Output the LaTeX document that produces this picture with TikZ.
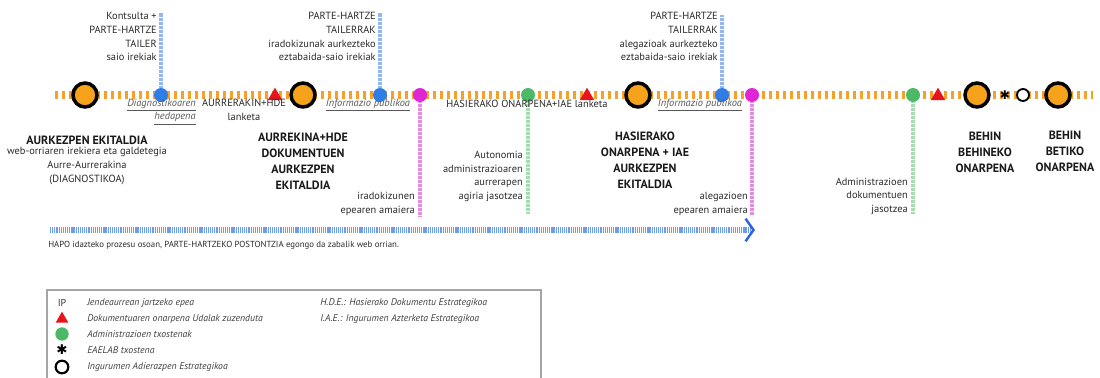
\documentclass[tikz,border=0pt]{standalone}
\usepackage{fontspec}
\setmainfont{PT Sans}
\newfontfamily\symfont{DejaVu Sans}
\usepackage{tikz}
\usetikzlibrary{shapes.geometric, arrows.meta, positioning}

\definecolor{tlorange}{HTML}{F5A02A}
\definecolor{circorange}{HTML}{F7A21B}
\definecolor{dotblue}{HTML}{2F7EE8}
\definecolor{dotmag}{HTML}{E024D6}
\definecolor{dotgreen}{HTML}{4DB866}
\definecolor{trired}{HTML}{E8141C}
\definecolor{lineblue}{HTML}{93B6F2}
\definecolor{linemag}{HTML}{E68AE2}
\definecolor{linegreen}{HTML}{A6DCB0}
\definecolor{hapoblue}{HTML}{6C9BF0}
\definecolor{chevblue}{HTML}{2D62D8}
\definecolor{txtgray}{HTML}{2A2A2A}

\newcommand{\ul}[1]{\underline{\textit{#1}}}

\begin{document}
\begin{tikzpicture}[x=0.75pt, y=-0.75pt,
    timeline/.style={line width=6pt, dash pattern=on 2.25pt off 3pt, tlorange},
    event/.style={circle, draw=black, line width=2.6pt, fill=circorange, minimum size=18pt, inner sep=0pt},
    dot/.style={circle, fill=#1, minimum size=10.5pt, inner sep=0pt},
    vline/.style={line width=2.4pt, dash pattern=on 0.55pt off 0.45pt, #1},
    redtri/.style={regular polygon, regular polygon sides=3, fill=trired, minimum size=12.5pt, inner sep=0pt},
    ieopen/.style={circle, draw=black, line width=1.4pt, fill=white, minimum size=9pt, inner sep=0pt},
    lbl/.style={inner sep=0pt, text=txtgray, font=\fontsize{7.8}{10.3}\selectfont},
    ital/.style={lbl, text=black!65, font=\itshape\fontsize{7.8}{10}\selectfont},
    ttl/.style={inner sep=0pt, text=black!90, align=center, font=\bfseries\fontsize{9}{12}\selectfont},
    leg/.style={inner sep=0pt, anchor=west, text=black!75, font=\itshape\fontsize{7.3}{8}\selectfont}]
    \useasboundingbox (0,0) rectangle (1100,378);

    \coordinate (tl0) at (55,95);
    \coordinate (tl1) at (1093,95);
    \draw[timeline] (tl0) -- (tl1);

    % timeline marks
    \node[event] (c1) at (85,95) {};
    \node[event] (c2) at (303,95) {};
    \node[event] (c3) at (638,95) {};
    \node[event] (c4) at (977,95) {};
    \node[event] (c5) at (1058,95) {};
    \node[dot=dotblue] (b1) at (161,95) {};
    \node[dot=dotblue] (b2) at (380,95) {};
    \node[dot=dotblue] (b3) at (722,95) {};
    \node[dot=dotmag] (m1) at (420,95) {};
    \node[dot=dotmag] (m2) at (752,95) {};
    \node[dot=dotgreen] (g1) at (528,95) {};
    \node[dot=dotgreen] (g2) at (913,95) {};
    \node[redtri] (r1) at (275,96) {};
    \node[redtri] (r2) at (587,96) {};
    \node[redtri] (r3) at (938,96) {};
    \node[inner sep=0pt, font=\symfont\fontsize{9}{9}\selectfont] (ast) at (1005,95) {✱};
    \node[ieopen] (ie) at (1023,95) {};

    % vertical leaders
    \coordinate (b1e) at (161,13);
    \coordinate (b2e) at (380,13);
    \coordinate (b3e) at (722,15);
    \coordinate (m1e) at (420,216);
    \coordinate (m2e) at (752,215);
    \coordinate (g1e) at (528,213);
    \coordinate (g2e) at (913,214);
    \draw[vline=lineblue] (b1) -- (b1e);
    \draw[vline=lineblue] (b2) -- (b2e);
    \draw[vline=lineblue] (b3) -- (b3e);
    \draw[vline=linemag] (m1) -- (m1e);
    \draw[vline=linemag] (m2) -- (m2e);
    \draw[vline=linegreen] (g1) -- (g1e);
    \draw[vline=linegreen] (g2) -- (g2e);

    % labels above
    \node[lbl, align=right, anchor=north east] (kon) at (157,12) {Kontsulta +\\PARTE-HARTZE\\TAILER\\saio irekiak};
    \node[lbl, align=right, anchor=north east] (tai1) at (376,12) {PARTE-HARTZE\\TAILERRAK\\iradokizunak aurkezteko\\eztabaida-saio irekiak};
    \node[lbl, align=right, anchor=north east] (tai2) at (718,12) {PARTE-HARTZE\\TAILERRAK\\alegazioak aurkezteko\\eztabaida-saio irekiak};

    % labels on the line
    \node[ital, align=right, anchor=north east] (diag) at (196,99) {\ul{Diagnostikoaren}\\\ul{hedapena}};
    \node[lbl, align=center, anchor=north] (aurl) at (244,99) {AURRERAKIN+HDE\\lanketa};
    \node[ital, anchor=north] (ip1) at (368,99) {\ul{Informazio publikoa}};
    \node[lbl, anchor=north] (hasl) at (527,100) {HASIERAKO ONARPENA+IAE lanketa};
    \node[ital, anchor=north] (ip2) at (700,99) {\ul{Informazio publikoa}};

    % events below
    \node[ttl, anchor=north] (e1) at (87,136) {AURKEZPEN EKITALDIA};
    \node[lbl, align=center, below=1.5pt of e1] (e1s) {web-orriaren irekiera eta galdetegia\\Aurre-Aurrerakina\\(DIAGNOSTIKOA)};
    \node[ttl, anchor=north] (e2) at (303,133) {AURREKINA+HDE\\DOKUMENTUEN\\AURKEZPEN\\EKITALDIA};
    \node[ttl, anchor=north] (e3) at (645,132) {HASIERAKO\\ONARPENA + IAE\\AURKEZPEN\\EKITALDIA};
    \node[ttl, anchor=north] (e4) at (985,132) {BEHIN\\BEHINEKO\\ONARPENA};
    \node[ttl, anchor=north] (e5) at (1065,131) {BEHIN\\BETIKO\\ONARPENA};

    % labels below
    \node[lbl, align=right, anchor=south east] (irad) at (415,216) {iradokizunen\\epearen amaiera};
    \node[lbl, align=right, anchor=south east] (auto) at (523,202) {Autonomia\\administrazioaren\\aurrerapen\\agiria jasotzea};
    \node[lbl, align=right, anchor=south east] (aleg) at (748,216) {alegazioen\\epearen amaiera};
    \node[lbl, align=right, anchor=south east] (adm) at (908,215) {Administrazioen\\dokumentuen\\jasotzea};

    % postontzia
    \coordinate (hp0) at (50,230);
    \coordinate (hp1) at (755,230);
    \draw[line width=4pt, dash pattern=on 0.9pt off 0.7pt, hapoblue,
        -{Straight Barb[length=6pt, width=17pt, line width=1.8pt, color=chevblue]}] (hp0) -- (hp1);
    \node[lbl, anchor=north west, font=\fontsize{6.6}{9}\selectfont] (hapo) at (48,241) {HAPO idazteko prozesu osoan, PARTE-HARTZEKO POSTONTZIA egongo da zabalik web orrian.};

    % legend
    \draw[black!35, line width=0.8pt] (47,290) rectangle (541,392);
    \node[inner sep=0pt, text=black!80, font=\fontsize{7.5}{8}\selectfont] (lip) at (62,303) {IP};
    \node[redtri, minimum size=11pt] (ltri) at (62,319) {};
    \node[dot=dotgreen, minimum size=10pt] (ldot) at (62,334) {};
    \node[inner sep=0pt, font=\symfont\fontsize{10}{10}\selectfont] (last) at (62,350) {✱};
    \node[ieopen, minimum size=9.5pt, line width=1.6pt] (lie) at (62,367) {};
    \node[leg] at (87,303) {Jendeaurrean jartzeko epea};
    \node[leg] at (87,319) {Dokumentuaren onarpena Udalak zuzenduta};
    \node[leg] at (87,334) {Administrazioen txostenak};
    \node[leg] at (87,350) {EAELAB txostena};
    \node[leg] at (87,367) {Ingurumen Adierazpen Estrategikoa};
    \node[leg] at (320,303) {H.D.E.: Hasierako Dokumentu Estrategikoa};
    \node[leg] at (320,319) {I.A.E.: Ingurumen Azterketa Estrategikoa};
\end{tikzpicture}
\end{document}
